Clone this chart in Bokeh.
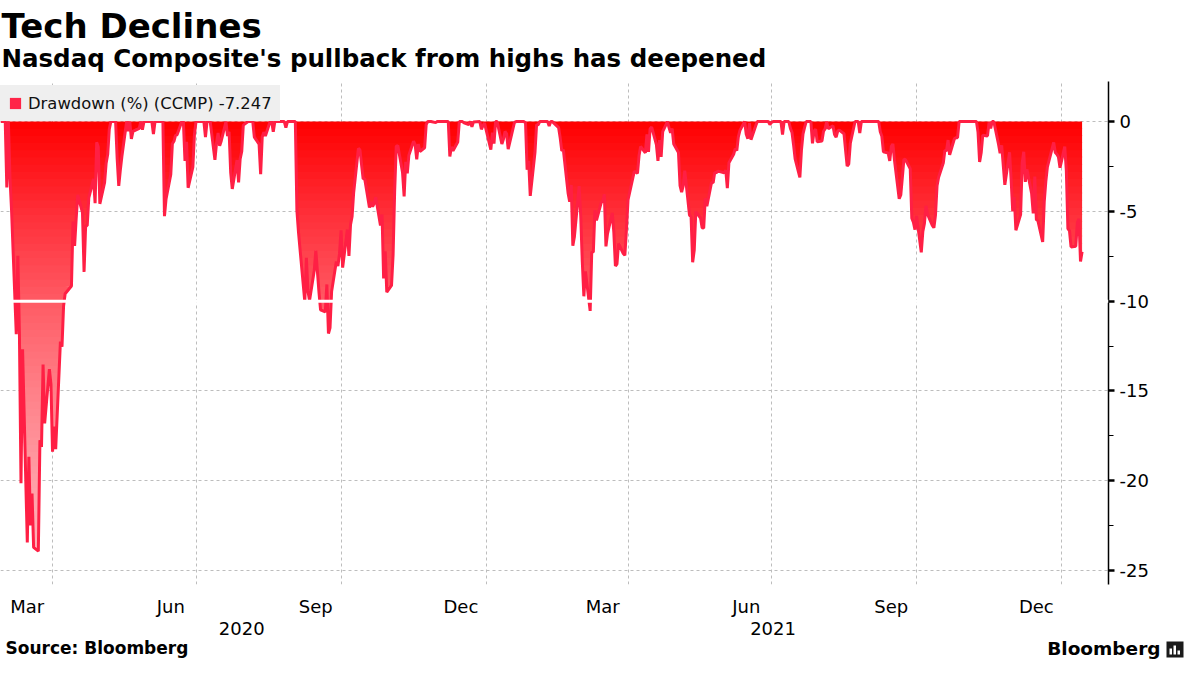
import numpy as np
import pandas as pd
from bokeh.plotting import figure
from bokeh.layouts import column
from bokeh.models import (Range1d, LinearAxis, FixedTicker, Span, Label, Legend,
                          LegendItem, ColumnDataSource)
from bokeh.embed import file_html
from bokeh.resources import INLINE

# ---------------- data ----------------
dates = [
 "2020-02-28","2020-03-02","2020-03-03","2020-03-04","2020-03-05","2020-03-06","2020-03-09","2020-03-10",
 "2020-03-11","2020-03-12","2020-03-13","2020-03-16","2020-03-17","2020-03-18","2020-03-19","2020-03-20",
 "2020-03-23","2020-03-24","2020-03-25","2020-03-26","2020-03-27","2020-03-30","2020-03-31","2020-04-01",
 "2020-04-02","2020-04-03","2020-04-06","2020-04-07","2020-04-08","2020-04-09","2020-04-13","2020-04-14",
 "2020-04-15","2020-04-16","2020-04-17","2020-04-20","2020-04-21","2020-04-22","2020-04-23","2020-04-24",
 "2020-04-27","2020-04-28","2020-04-29","2020-04-30","2020-05-01","2020-05-04","2020-05-05","2020-05-06",
 "2020-05-07","2020-05-08","2020-05-11","2020-05-12","2020-05-13","2020-05-14","2020-05-15","2020-05-18",
 "2020-05-19","2020-05-20","2020-05-21","2020-05-22","2020-05-26","2020-05-27","2020-05-28","2020-05-29",
 "2020-06-03","2020-06-04","2020-06-05","2020-06-10","2020-06-11","2020-06-12","2020-06-15","2020-06-16",
 "2020-06-17","2020-06-18","2020-06-19","2020-06-22","2020-06-23","2020-06-24","2020-06-25","2020-06-26",
 "2020-06-29","2020-06-30","2020-07-01","2020-07-06","2020-07-07","2020-07-08","2020-07-10","2020-07-13",
 "2020-07-14","2020-07-15","2020-07-16","2020-07-17","2020-07-20","2020-07-21","2020-07-22","2020-07-23",
 "2020-07-24","2020-07-27","2020-07-28","2020-07-29","2020-07-30","2020-07-31","2020-08-03","2020-08-06",
 "2020-08-07","2020-08-10","2020-08-11","2020-08-12","2020-08-13","2020-08-14","2020-08-17","2020-08-18",
 "2020-08-19","2020-08-20","2020-08-26","2020-08-27","2020-08-28","2020-09-02","2020-09-03","2020-09-04",
 "2020-09-08","2020-09-09","2020-09-10","2020-09-11","2020-09-14","2020-09-15","2020-09-16","2020-09-17",
 "2020-09-18","2020-09-21","2020-09-22","2020-09-23","2020-09-24","2020-09-25","2020-09-28","2020-09-29",
 "2020-09-30","2020-10-01","2020-10-02","2020-10-05","2020-10-06","2020-10-07","2020-10-08","2020-10-09",
 "2020-10-12","2020-10-13","2020-10-14","2020-10-15","2020-10-16","2020-10-19","2020-10-20","2020-10-21",
 "2020-10-22","2020-10-23","2020-10-26","2020-10-27","2020-10-28","2020-10-29","2020-10-30","2020-11-02",
 "2020-11-03","2020-11-04","2020-11-05","2020-11-06","2020-11-09","2020-11-10","2020-11-11","2020-11-12",
 "2020-11-13","2020-11-16","2020-11-17","2020-11-18","2020-11-19","2020-11-20","2020-11-23","2020-11-24",
 "2020-11-25","2020-11-27","2020-11-30","2020-12-01","2020-12-08","2020-12-09","2020-12-10","2020-12-11",
 "2020-12-14","2020-12-15","2020-12-17","2020-12-18","2020-12-21","2020-12-22","2020-12-23","2020-12-24",
 "2020-12-28","2020-12-29","2020-12-30","2020-12-31","2021-01-04","2021-01-05","2021-01-06","2021-01-07",
 "2021-01-08","2021-01-11","2021-01-12","2021-01-13","2021-01-14","2021-01-15","2021-01-19","2021-01-20",
 "2021-01-25","2021-01-26","2021-01-27","2021-01-28","2021-01-29","2021-02-01","2021-02-02","2021-02-03",
 "2021-02-04","2021-02-09","2021-02-10","2021-02-11","2021-02-12","2021-02-16","2021-02-17","2021-02-18",
 "2021-02-19","2021-02-22","2021-02-23","2021-02-24","2021-02-25","2021-02-26","2021-03-01","2021-03-02",
 "2021-03-03","2021-03-04","2021-03-05","2021-03-08","2021-03-09","2021-03-10","2021-03-11","2021-03-12",
 "2021-03-15","2021-03-16","2021-03-17","2021-03-18","2021-03-19","2021-03-22","2021-03-23","2021-03-24",
 "2021-03-25","2021-03-26","2021-03-29","2021-03-30","2021-03-31","2021-04-01","2021-04-05","2021-04-06",
 "2021-04-07","2021-04-08","2021-04-09","2021-04-12","2021-04-13","2021-04-14","2021-04-15","2021-04-16",
 "2021-04-19","2021-04-20","2021-04-21","2021-04-22","2021-04-23","2021-04-26","2021-04-27","2021-04-28",
 "2021-04-29","2021-04-30","2021-05-03","2021-05-04","2021-05-05","2021-05-06","2021-05-07","2021-05-10",
 "2021-05-11","2021-05-12","2021-05-13","2021-05-14","2021-05-17","2021-05-18","2021-05-19","2021-05-20",
 "2021-05-21","2021-05-24","2021-05-25","2021-05-26","2021-05-27","2021-05-28","2021-06-01","2021-06-02",
 "2021-06-03","2021-06-04","2021-06-07","2021-06-08","2021-06-09","2021-06-10","2021-06-11","2021-06-14",
 "2021-06-15","2021-06-16","2021-06-17","2021-06-18","2021-06-21","2021-06-22","2021-06-29","2021-06-30",
 "2021-07-01","2021-07-02","2021-07-07","2021-07-08","2021-07-09","2021-07-12","2021-07-13","2021-07-14",
 "2021-07-15","2021-07-16","2021-07-19","2021-07-20","2021-07-21","2021-07-22","2021-07-23","2021-07-26",
 "2021-07-27","2021-07-28","2021-07-29","2021-07-30","2021-08-02","2021-08-03","2021-08-04","2021-08-05",
 "2021-08-06","2021-08-09","2021-08-10","2021-08-11","2021-08-12","2021-08-13","2021-08-16","2021-08-17",
 "2021-08-18","2021-08-19","2021-08-20","2021-08-23","2021-08-25","2021-08-26","2021-08-27","2021-09-07",
 "2021-09-08","2021-09-09","2021-09-10","2021-09-13","2021-09-14","2021-09-15","2021-09-16","2021-09-17",
 "2021-09-20","2021-09-21","2021-09-22","2021-09-23","2021-09-24","2021-09-27","2021-09-28","2021-09-29",
 "2021-09-30","2021-10-01","2021-10-04","2021-10-05","2021-10-06","2021-10-07","2021-10-08","2021-10-11",
 "2021-10-12","2021-10-13","2021-10-14","2021-10-15","2021-10-18","2021-10-19","2021-10-20","2021-10-21",
 "2021-10-22","2021-10-25","2021-10-26","2021-10-27","2021-10-28","2021-11-08","2021-11-09","2021-11-10",
 "2021-11-11","2021-11-12","2021-11-15","2021-11-16","2021-11-17","2021-11-18","2021-11-19","2021-11-22",
 "2021-11-23","2021-11-24","2021-11-26","2021-11-29","2021-11-30","2021-12-01","2021-12-02","2021-12-03",
 "2021-12-06","2021-12-07","2021-12-08","2021-12-09","2021-12-10","2021-12-13","2021-12-14","2021-12-15",
 "2021-12-16","2021-12-17","2021-12-20","2021-12-21","2021-12-22","2021-12-23","2021-12-27","2021-12-28",
 "2021-12-29","2021-12-30","2021-12-31","2022-01-03","2022-01-04","2022-01-05","2022-01-06","2022-01-07",
 "2022-01-10","2022-01-11","2022-01-12","2022-01-13","2022-01-14",
]

drawdown = [
 0, 0, -3.67, 0, -3.10, -4.91, -11.84, -7.47,
 -11.82, -20.14, -12.68, -23.44, -18.67, -22.49, -20.71, -23.71,
 -23.92, -17.74, -18.12, -13.53, -16.81, -13.79, -14.62, -18.38,
 -16.98, -18.24, -12.25, -12.54, -10.28, -9.59, -9.16, -5.57,
 -6.93, -5.39, -4.08, -5.07, -8.37, -5.80, -5.80, -4.25,
 -3.19, -4.55, -1.15, -1.42, -4.58, -3.41, -2.32, -1.82,
 -0.42, 0, 0, -2.06, -3.58, -2.70, -1.93, 0,
 -0.54, 0, -0.97, -0.55, -0.38, 0, -0.46, 0,
 0, -0.69, 0, 0, -5.27, -4.31, -2.94, -1.24,
 -1.10, -0.77, -0.74, 0, 0, -2.19, -1.13, -3.69,
 -2.54, -0.72, 0, 0, -0.86, 0, 0, -2.13,
 -1.22, -0.63, -1.35, -1.08, 0, -0.81, -0.57, -2.84,
 -3.75, -2.14, -3.39, -2.08, -1.67, -0.20, 0, 0,
 -0.87, -1.26, -2.93, -0.86, -0.59, -0.80, 0, 0,
 -0.57, 0, 0, -0.34, 0, 0, -4.96, -6.16,
 -10.03, -7.59, -9.43, -9.97, -8.29, -7.18, -8.34, -9.51,
 -10.48, -10.60, -9.07, -11.80, -11.48, -9.47, -7.79, -8.05,
 -7.37, -6.06, -8.13, -6.01, -7.48, -5.74, -5.28, -3.95,
 -1.49, -1.59, -2.39, -3.19, -3.18, -4.79, -4.48, -4.74,
 -4.56, -4.21, -5.79, -5.18, -8.73, -7.22, -9.50, -9.12,
 -7.43, -3.87, -1.38, -1.33, -2.84, -4.17, -2.24, -2.88,
 -1.88, -1.09, -1.30, -2.10, -1.26, -1.67, -1.46, -0.16,
 0, 0, -0.06, 0, 0, -1.94, -1.41, -1.63,
 -1.14, 0, 0, -0.07, -0.17, 0, -0.29, -0.02,
 0, -0.43, -0.23, -0.09, -1.56, -0.62, -1.23, 0,
 0, -1.25, -0.98, -0.55, -0.68, -1.54, -0.04, 0,
 0, -0.07, -2.68, -2.19, -4.14, -1.71, -0.17, -0.19,
 0, 0, -0.25, 0, 0, -0.34, -0.92, -1.63,
 -1.57, -3.99, -4.47, -3.53, -6.92, -6.41, -3.59, -5.23,
 -7.79, -9.73, -8.34, -10.54, -7.25, -7.28, -4.94, -5.50,
 -4.51, -4.43, -4.05, -6.95, -6.24, -5.09, -6.16, -8.04,
 -7.93, -6.79, -7.35, -7.45, -6.02, -4.37, -2.77, -2.82,
 -2.88, -1.89, -1.39, -1.74, -0.71, -1.69, -0.40, -0.31,
 -1.28, -2.19, -1.03, -1.97, -0.56, 0, -0.34, -0.62,
 -0.40, -1.25, -1.72, -3.57, -3.93, -3.58, -2.73, -5.21,
 -5.30, -7.83, -7.17, -5.01, -5.37, -5.91, -5.93, -4.27,
 -4.72, -3.38, -3.41, -2.83, -2.85, -2.76, -2.85, -2.71,
 -3.71, -2.29, -1.82, -1.51, -1.61, -0.84, -0.49, 0,
 -0.71, -0.95, -0.09, -1.01, -0.23, 0, 0, -0.17,
 -0.04, 0, 0, -0.72, 0, 0, -0.38, -0.60,
 -1.29, -2.08, -3.11, -1.59, -0.69, -0.33, 0, 0,
 -1.21, -0.53, -0.42, -1.13, -1.08, -0.54, -0.41, 0,
 -0.40, -0.23, -0.72, -0.87, -0.53, -0.48, -0.68, -1.60,
 -2.48, -2.37, -1.21, 0, 0, -0.64, 0, 0,
 -0.57, -0.82, -1.68, -1.75, -2.19, -1.38, -1.25, -2.15,
 -4.30, -4.09, -3.11, -2.09, -2.12, -2.63, -5.38, -5.61,
 -6.02, -5.25, -7.28, -6.12, -5.67, -4.69, -5.17, -5.78,
 -5.91, -5.22, -3.58, -3.10, -2.29, -1.59, -1.64, -1.03,
 -1.85, -0.96, -0.90, -0.90, 0, 0, -0.60, -2.25,
 -1.74, -0.76, -0.80, -0.05, -0.38, 0, 0, -1.26,
 -1.76, -1.32, -3.52, -1.71, -3.24, -5.00, -4.21, -6.05,
 -5.18, -2.31, -1.68, -3.36, -2.66, -4.01, -5.11, -3.06,
 -5.46, -5.53, -6.70, -4.46, -3.33, -2.52, -1.16, -1.72,
 -1.82, -1.97, -2.57, -1.40, -2.71, -5.96, -6.08, -6.98,
 -6.94, -5.63, -5.41, -7.79, -7.247,
]

series_label = "Drawdown (%) (CCMP) -7.247"
month_tick_dates = ["2020-03-16", "2020-06-15", "2020-09-15", "2020-12-16",
                    "2021-03-16", "2021-06-15", "2021-09-15", "2021-12-16"]
month_tick_labels = ["Mar", "Jun", "Sep", "Dec", "Mar", "Jun", "Sep", "Dec"]
year_tick_dates = ["2020-07-30", "2021-07-02"]
year_tick_labels = ["2020", "2021"]
grid_dates = ["2020-04-01", "2020-07-01", "2020-10-01", "2021-01-01",
              "2021-04-01", "2021-07-01", "2021-10-01", "2022-01-01"]
y_tick_values = [0, -5, -10, -15, -20, -25]
y_tick_labels = ["0", "-5", "-10", "-15", "-20", "-25"]
y_grid_values = [0, -5, -15, -20, -25]
threshold = -10
title_text = "Tech Declines"
subtitle_text = "Nasdaq Composite's pullback from highs has deepened"
source_text = "Source: Bloomberg"


def to_ms(lst):
    return [int(v) for v in pd.to_datetime(lst).values.astype("datetime64[ms]").astype("int64")]


x = np.array(to_ms(dates), dtype=float)
y = np.array(drawdown, dtype=float)
assert len(x) == len(y)

FONT = "DejaVu Sans"
W = 1184
HEADER_H = 79
BORDER_TOP = 2
FRAME_H = 503
BORDER_BOTTOM = 53
MAIN_H = BORDER_TOP + FRAME_H + BORDER_BOTTOM
FOOTER_H = 659 - HEADER_H - MAIN_H
FRAME_RIGHT = 1108
FRAME_BOTTOM = HEADER_H + BORDER_TOP + FRAME_H
PX_PER_UNIT = 17.96
Y_TOP = 2.23
Y_BOTTOM = Y_TOP - FRAME_H / PX_PER_UNIT


def text_y(page_baseline, top_of_fig, fig_h, fs):
    """y (data units, upward) for a middle-anchored label whose baseline sits at page_baseline."""
    return fig_h - (page_baseline - top_of_fig) + 0.36 * fs


# ---------------- header ----------------
header = figure(width=W, height=HEADER_H, output_backend="svg", toolbar_location=None,
                x_range=Range1d(0, W), y_range=Range1d(0, HEADER_H),
                x_axis_location=None, y_axis_location=None, min_border=0,
                outline_line_color=None, background_fill_color="white",
                border_fill_color="white", frame_align=False)
header.grid.visible = False
header.add_layout(Label(x=1, y=text_y(38, 0, HEADER_H, 34), text=title_text, text_font=FONT,
                        text_font_style="bold", text_font_size="34px", text_color="black",
                        text_baseline="middle"))
header.add_layout(Label(x=1, y=text_y(67, 0, HEADER_H, 24.5), text=subtitle_text, text_font=FONT,
                        text_font_style="bold", text_font_size="24.5px", text_color="black",
                        text_baseline="middle"))

# ---------------- main chart ----------------
p = figure(width=W, height=MAIN_H, output_backend="svg", toolbar_location=None,
           x_range=Range1d(to_ms(["2020-02-28"])[0], to_ms(["2022-01-30 18:00"])[0]),
           y_range=Range1d(Y_BOTTOM, Y_TOP),
           y_axis_location="right",
           min_border_left=0, min_border_top=BORDER_TOP,
           min_border_right=W - FRAME_RIGHT, min_border_bottom=BORDER_BOTTOM,
           background_fill_color="white", border_fill_color="white",
           outline_line_color=None, frame_align=False)

depth_anchor = [0, 5, 10, 15, 20, 24, 27]
g_anchor = [0, 45, 90, 128, 158, 178, 188]
b_anchor = [0, 55, 100, 136, 165, 184, 194]


def grad(v):
    d = -v
    g = int(round(np.interp(d, depth_anchor, g_anchor)))
    b = int(round(np.interp(d, depth_anchor, b_anchor)))
    return "#%02x%02x%02x" % (255, g, b)


# --- gradient fill: the outline is split where it crosses each band level, then
#     each horizontal band is filled exactly between the curve and the zero line.
STEP = 0.4
levels = np.round(np.arange(0, y.min() - STEP, -STEP), 6)
RX, RY = [x[0]], [y[0]]
for i in range(len(x) - 1):
    x0, y0, x1, y1 = x[i], y[i], x[i + 1], y[i + 1]
    if y1 != y0:
        inside = levels[(levels > min(y0, y1)) & (levels < max(y0, y1))]
        ts = (inside - y0) / (y1 - y0)
        order = np.argsort(ts)
        for t, lv in zip(ts[order], inside[order]):
            RX.append(x0 + t * (x1 - x0))
            RY.append(lv)
    RX.append(x1)
    RY.append(y1)
RX, RY = np.array(RX), np.array(RY)

EPS = 1e-9
for a, b in reversed(list(zip(levels[:-1], levels[1:]))):
    active = RY < a - EPS
    if not active.any():
        continue
    lo = np.clip(RY, b, a)
    top = np.where(active, min(a + 0.05, 0.0) if a < 0 else 0.0, a)
    inactive = ~active
    full = RY <= b + EPS
    keep = np.ones(len(RY), bool)
    for cond in (inactive, full):
        interior = np.zeros(len(RY), bool)
        interior[1:-1] = cond[1:-1] & cond[:-2] & cond[2:]
        keep &= ~interior
    p.varea(x=RX[keep], y1=lo[keep], y2=top[keep], fill_color=grad((a + b) / 2), fill_alpha=1.0)

p.line(x=x, y=y, line_color="#ff1f44", line_width=3)
p.add_layout(Span(location=threshold, dimension="width", line_color="white", line_width=3))

# y axis (right)
yax = p.yaxis[0]
yax.ticker = FixedTicker(ticks=y_tick_values,
                         minor_ticks=[v - 2.5 for v in y_tick_values[:-1]])
yax.major_label_overrides = {v: s for v, s in zip(y_tick_values, y_tick_labels)}
yax.axis_line_color = "black"
yax.axis_line_width = 1.5
yax.major_tick_out = 6
yax.major_tick_in = 0
yax.major_tick_line_width = 2.5
yax.minor_tick_out = 5
yax.minor_tick_in = 0
yax.minor_tick_line_width = 1
yax.major_label_standoff = 5
yax.major_label_text_font = FONT
yax.major_label_text_font_size = "18px"
yax.major_label_text_color = "black"

# month axis
xax = p.xaxis[0]
m_ms = to_ms(month_tick_dates)
xax.ticker = FixedTicker(ticks=m_ms)
xax.major_label_overrides = {m: lab for m, lab in zip(m_ms, month_tick_labels)}
xax.axis_line_color = None
xax.major_tick_line_color = None
xax.minor_tick_line_color = None
xax.major_tick_out = 0
xax.major_tick_in = 0
xax.major_label_standoff = 11
xax.major_label_text_font = FONT
xax.major_label_text_font_size = "18px"
xax.major_label_text_color = "black"

# year axis
y_ms = to_ms(year_tick_dates)
yearax = LinearAxis(ticker=FixedTicker(ticks=y_ms),
                    major_label_overrides={m: lab for m, lab in zip(y_ms, year_tick_labels)},
                    axis_line_color=None, major_tick_line_color=None, minor_tick_line_color=None,
                    major_tick_out=0, major_tick_in=0, major_label_standoff=2,
                    major_label_text_font=FONT, major_label_text_font_size="18px",
                    major_label_text_color="black")
p.add_layout(yearax, "below")

# grids
p.xgrid[0].ticker = FixedTicker(ticks=to_ms(grid_dates))
p.ygrid[0].ticker = FixedTicker(ticks=y_grid_values)
for g in (p.xgrid[0], p.ygrid[0]):
    g.grid_line_color = "#bdbdbd"
    g.grid_line_dash = "3 3"
    g.grid_line_width = 1

# legend (its swatch renderer sits outside the visible range)
leg_ms = to_ms(["2019-01-01", "2019-01-10"])
leg_src = ColumnDataSource(dict(l=[leg_ms[0]], r=[leg_ms[1]], t=[-1.0], b=[-2.0]))
r_leg = p.quad(left="l", right="r", top="t", bottom="b", source=leg_src,
               fill_color="#ff2448", line_color=None)
legend_top_page = HEADER_H + BORDER_TOP + 6
legend = Legend(items=[LegendItem(label=series_label, renderers=[r_leg])],
                location=(0, FRAME_BOTTOM - (legend_top_page + 34)), margin=0, padding=7,
                spacing=0, glyph_width=14, glyph_height=14, label_standoff=6,
                label_text_font=FONT, label_text_font_size="16.4px",
                label_text_color="#111111", label_height=20,
                background_fill_color="#efefef", background_fill_alpha=1.0,
                border_line_color="#efefef", border_line_width=1)
p.add_layout(legend)

# ---------------- footer ----------------
footer = figure(width=W, height=FOOTER_H, output_backend="svg", toolbar_location=None,
                x_range=Range1d(0, W), y_range=Range1d(0, FOOTER_H),
                x_axis_location=None, y_axis_location=None, min_border=0,
                outline_line_color=None, background_fill_color="white",
                border_fill_color="white", frame_align=False)
footer.grid.visible = False
FOOT_TOP = HEADER_H + MAIN_H
footer.add_layout(Label(x=5, y=text_y(FOOT_TOP + 17, FOOT_TOP, FOOTER_H, 17), text=source_text,
                        text_font=FONT, text_font_style="bold", text_font_size="17px",
                        text_color="black", text_baseline="middle"))
footer.add_layout(Label(x=1160, y=text_y(FOOT_TOP + 17.5, FOOT_TOP, FOOTER_H, 18.5), text="Bloomberg",
                        text_font=FONT, text_font_style="bold",
                        text_font_size="18.5px", text_color="black", text_align="right",
                        text_baseline="middle"))
icon_b = 2
footer.quad(left=[1166], right=[1183], bottom=[icon_b], top=[icon_b + 16],
            fill_color="#1a1a1a", line_color=None)
footer.quad(left=[1169, 1173, 1177], right=[1171.5, 1175.5, 1179.5],
            bottom=[icon_b + 3] * 3, top=[icon_b + 9, icon_b + 12, icon_b + 7],
            fill_color="white", line_color=None)

layout = column(header, p, footer, spacing=0)
open("out.html", "w").write(file_html(layout, INLINE))
